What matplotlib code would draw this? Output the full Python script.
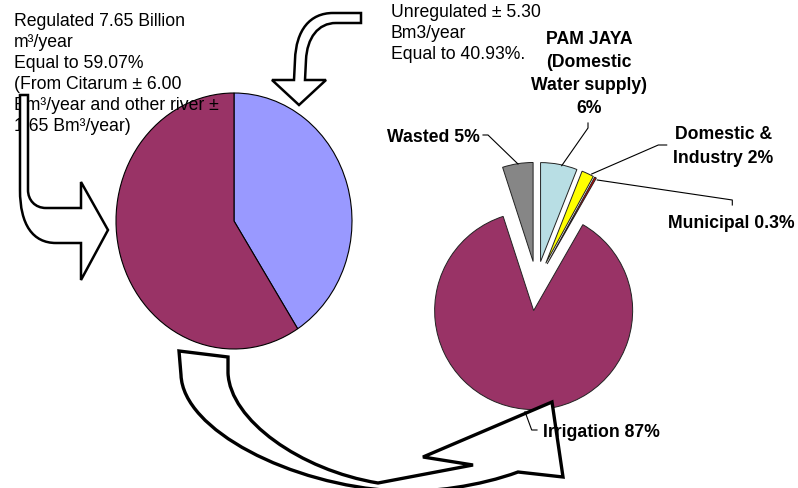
import matplotlib
matplotlib.use("Agg")
import matplotlib.pyplot as plt
from matplotlib.path import Path
from matplotlib.patches import PathPatch

# ---- data -------------------------------------------------------------
source_labels = ["Unregulated", "Regulated"]
source_shares = [40.93, 59.07]            # % of total river water
regulated_bm3 = 7.65
citarum_bm3 = 6.00
other_river_bm3 = 1.65
unregulated_bm3 = 5.30

use_labels = ["PAM JAYA\n(Domestic\nWater supply)", "Domestic &\nIndustry",
              "Municipal", "Irrigation", "Wasted"]
use_shares = [6, 2, 0.3, 87, 5]           # % of regulated water

source_colors = ["#9999FF", "#993366"]
use_colors = ["#B8DEE4", "#FFFF00", "#E00000", "#993366", "#868686"]
use_explode = [0.22, 0.22, 0.22, 0.28, 0.22]

W, H = 798, 488
FONT = "Liberation Sans"

fig = plt.figure(figsize=(W / 100, H / 100), dpi=100)


def px_axes(cx, cy, hx, hy, z):
    """Axes whose box is centred on pixel (cx, cy) with half sizes hx, hy."""
    return fig.add_axes([(cx - hx) / W, (H - (cy + hy)) / H, 2 * hx / W, 2 * hy / H],
                        zorder=z)


# ---- left pie: regulated vs unregulated (slightly stretched vertically) --
axL = px_axes(234, 221, 1.1 * 118, 1.1 * 128, 0)
axL.pie(source_shares, colors=source_colors, startangle=90, counterclock=False,
        wedgeprops=dict(edgecolor="black", linewidth=0.8))
axL.set_xlim(-1.1, 1.1)
axL.set_ylim(-1.1, 1.1)
axL.set_aspect("auto")
axL.axis("off")

# ---- right pie: use of regulated water ----------------------------------
axR = px_axes(536.5, 283, 1.5 * 99, 1.5 * 99, 0)
axR.pie(use_shares, colors=use_colors, explode=use_explode, startangle=90,
        counterclock=False, wedgeprops=dict(edgecolor="#222222", linewidth=0.7))
axR.set_xlim(-1.5, 1.5)
axR.set_ylim(-1.5, 1.5)
axR.set_aspect("auto")
axR.axis("off")

# ---- overlay in pixel coordinates (origin top-left) ---------------------
ov = fig.add_axes([0, 0, 1, 1], zorder=1)
ov.set_xlim(0, W)
ov.set_ylim(H, 0)
ov.axis("off")
ov.patch.set_visible(False)


def text_block(x, y0, lines, step, **kw):
    for i, s in enumerate(lines):
        ov.text(x, y0 + i * step, s, va="baseline", family=FONT, **kw)


reg_lines = [f"Regulated {regulated_bm3:.2f} Billion",
             "m\u00b3/year",
             f"Equal to {source_shares[1]:.2f}%",
             f"(From Citarum \u00b1 {citarum_bm3:.2f}",
             "Bm\u00b3/year and other river \u00b1",
             f"{other_river_bm3:.2f} Bm\u00b3/year)"]
text_block(14, 25.7, reg_lines, 21.1, fontsize=12.7, color="black", zorder=1)

unreg_lines = [f"Unregulated \u00b1 {unregulated_bm3:.2f}",
               "Bm3/year",
               f"Equal to {source_shares[0]:.2f}%."]
text_block(391, 16.7, unreg_lines, 21.0, fontsize=12.7, color="black", zorder=1)


def block_arrow(verts_codes, lw=2.2):
    verts = [v for v, _ in verts_codes]
    codes = [c for _, c in verts_codes]
    ov.add_patch(PathPatch(Path(verts, codes), facecolor="white",
                           edgecolor="black", linewidth=lw, zorder=2,
                           joinstyle="miter"))


M, L, C, Z = Path.MOVETO, Path.LINETO, Path.CURVE4, Path.CLOSEPOLY

# arrow into the top of the left pie
block_arrow([((361, 13), M), ((333, 13), L),
             ((310, 13), C), ((296, 30), C), ((295, 60), C),
             ((294, 80), L), ((272, 80), L), ((299, 105), L), ((326, 80), L),
             ((305, 80), L), ((306, 60), L),
             ((307, 38), C), ((318, 23), C), ((336, 23), C),
             ((361, 23), L), ((361, 13), Z)], lw=1.8)

# arrow into the left side of the left pie
block_arrow([((20, 95), M), ((20, 190), L),
             ((20, 225), C), ((33, 243), C), ((56, 243), C),
             ((81, 243), L), ((81, 280), L), ((108, 230), L), ((81, 182), L),
             ((81, 208), L), ((46, 208), L),
             ((35, 208), C), ((28, 200), C), ((28, 190), C),
             ((28, 95), L), ((20, 95), Z)], lw=1.8)

# big curved arrow from the left pie to the right pie
block_arrow([((179, 351), M), ((228, 357), L), ((228, 373), L),
             ((230, 420), C), ((300, 470), C), ((378, 483), C),
             ((473, 465), L), ((423, 457), L), ((552, 402), L), ((563, 477), L),
             ((518, 472), L),
             ((480, 486), C), ((430, 493), C), ((395, 491), C),
             ((290, 485), C), ((183, 430), C), ((181, 375), C),
             ((179, 351), Z)], lw=2.4)

# ---- labels and leader lines for the right pie --------------------------
lab = dict(family=FONT, fontsize=12.7, fontweight="bold", color="black", zorder=3)


def pct(v):
    return f"{v:g}%"


name_lines = use_labels[0].split("\n")
text_block(589, 44.3, name_lines + [pct(use_shares[0])], 23.0, ha="center",
           fontsize=12.7, fontweight="bold", color="black", zorder=3)
ov.text(387, 141.7, f"{use_labels[4]} {pct(use_shares[4])}", va="baseline", **lab)
dom = use_labels[1].split("\n")
text_block(723.5, 139.3, [dom[0], f"{dom[1]} {pct(use_shares[1])}"], 23.4,
           ha="center", fontsize=12.7, fontweight="bold", color="black", zorder=3)
ov.text(668, 227.7, f"{use_labels[2]} {pct(use_shares[2])}", va="baseline", **lab)
ov.text(542.7, 436.7, f"{use_labels[3]} {pct(use_shares[3])}", va="baseline", **lab)

leaders = [
    [(483, 135), (488, 135), (518, 164)],            # wasted
    [(588, 123), (588, 128), (561.7, 165.7)],        # PAM JAYA
    [(666.7, 145), (658.3, 145), (591.7, 174)],      # domestic & industry
    [(597.3, 180), (732.3, 200), (732.3, 205)],      # municipal
    [(525, 411.7), (531.7, 430), (537, 430)],        # irrigation
]
for pts in leaders:
    xs, ys = zip(*pts)
    ov.plot(xs, ys, color="black", linewidth=0.8, zorder=3)

fig.savefig("out.png", dpi=100)
